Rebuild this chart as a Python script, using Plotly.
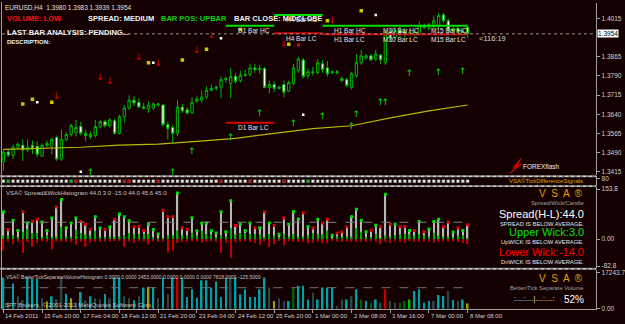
import plotly.graph_objects as go

W, H = 625, 324
BG = "#140000"
GRAY = "#a0a0a0"
TXT = "#d0d0d0"
FONT = "Liberation Sans"

# ---------------- data ----------------
bars = list(range(97))
open_ = [1.3454,1.3492,1.3480,1.3511,1.3519,1.3500,1.3519,1.3515,1.3477,1.3519,
         1.3515,1.3549,1.3465,1.3542,1.3561,1.3569,1.3592,1.3565,1.3561,1.3557,
         1.3592,1.3611,1.3595,1.3615,1.3565,1.3630,1.3664,1.3695,1.3687,1.3668,
         1.3661,1.3664,1.3676,1.3676,1.3599,1.3588,1.3565,1.3668,1.3657,1.3645,
         1.3691,1.3695,1.3707,1.3733,1.3741,1.3745,1.3775,1.3760,1.3787,1.3772,
         1.3791,1.3795,1.3821,1.3814,1.3818,1.3745,1.3756,1.3741,1.3756,1.3730,
         1.3760,1.3810,1.3852,1.3791,1.3806,1.3802,1.3837,1.3821,1.3802,1.3806,
         1.3779,1.3775,1.3745,1.3791,1.3841,1.3860,1.3868,1.3856,1.3871,1.3841,
         1.3963,1.3940,1.3967,1.3963,1.3952,1.3960,1.3956,1.3982,1.3975,1.3982,
         1.3982,1.4028,1.4005,1.3967,1.3975,1.3960,1.3980]
high = [1.3503,1.3503,1.3523,1.3530,1.3542,1.3542,1.3538,1.3534,1.3526,1.3538,
        1.3549,1.3557,1.3580,1.3569,1.3603,1.3618,1.3611,1.3580,1.3572,1.3618,
        1.3618,1.3618,1.3626,1.3622,1.3638,1.3676,1.3714,1.3710,1.3703,1.3684,
        1.3691,1.3687,1.3684,1.3680,1.3611,1.3599,1.3695,1.3680,1.3668,1.3707,
        1.3710,1.3733,1.3749,1.3756,1.3752,1.3787,1.3787,1.3821,1.3802,1.3810,
        1.3814,1.3837,1.3837,1.3833,1.3825,1.3772,1.3768,1.3752,1.3772,1.3772,
        1.3837,1.3864,1.3860,1.3818,1.3825,1.3856,1.3852,1.3848,1.3810,1.3814,
        1.3787,1.3783,1.3806,1.3875,1.3891,1.3875,1.3875,1.3891,1.3875,1.3971,
        1.3971,1.3979,1.3982,1.3979,1.3975,1.3971,1.4002,1.3994,1.3998,1.4025,
        1.4036,1.4036,1.4013,1.3982,1.3986,1.3975,1.3983]
low = [1.3419,1.3473,1.3465,1.3503,1.3458,1.3492,1.3484,1.3473,1.3473,1.3511,
       1.3484,1.3458,1.3458,1.3534,1.3553,1.3553,1.3557,1.3534,1.3542,1.3549,
       1.3584,1.3588,1.3588,1.3561,1.3561,1.3607,1.3657,1.3672,1.3664,1.3657,
       1.3645,1.3657,1.3668,1.3592,1.3542,1.3530,1.3553,1.3645,1.3638,1.3641,
       1.3684,1.3684,1.3699,1.3730,1.3733,1.3703,1.3764,1.3703,1.3760,1.3764,
       1.3787,1.3787,1.3802,1.3798,1.3741,1.3722,1.3726,1.3737,1.3707,1.3726,
       1.3752,1.3802,1.3779,1.3779,1.3791,1.3795,1.3802,1.3787,1.3798,1.3795,
       1.3764,1.3745,1.3737,1.3783,1.3833,1.3852,1.3848,1.3848,1.3837,1.3833,
       1.3925,1.3933,1.3944,1.3940,1.3948,1.3944,1.3948,1.3971,1.3967,1.3971,
       1.3975,1.3998,1.3960,1.3960,1.3952,1.3948,1.3939]
close = [1.3492,1.3480,1.3511,1.3523,1.3500,1.3511,1.3507,1.3484,1.3519,1.3526,
         1.3542,1.3465,1.3542,1.3561,1.3595,1.3588,1.3565,1.3557,1.3553,1.3592,
         1.3611,1.3595,1.3618,1.3565,1.3630,1.3664,1.3695,1.3684,1.3668,1.3664,
         1.3676,1.3680,1.3680,1.3599,1.3584,1.3565,1.3668,1.3653,1.3645,1.3687,
         1.3699,1.3707,1.3733,1.3741,1.3745,1.3775,1.3779,1.3787,1.3768,1.3791,
         1.3795,1.3821,1.3814,1.3818,1.3745,1.3756,1.3741,1.3745,1.3726,1.3764,
         1.3821,1.3856,1.3787,1.3806,1.3802,1.3841,1.3814,1.3798,1.3806,1.3802,
         1.3772,1.3752,1.3798,1.3841,1.3868,1.3868,1.3852,1.3875,1.3852,1.3960,
         1.3937,1.3967,1.3952,1.3952,1.3960,1.3952,1.3986,1.3979,1.3990,1.4005,
         1.4025,1.4005,1.3967,1.3975,1.3960,1.3963,1.3954]

# moving average (read every 8 bars)
ma_idx = [0, 8, 16, 24, 32, 40, 48, 56, 64, 72, 80, 88, 96]
ma_val = [1.3503,1.3507,1.3511,1.3519,1.3523,1.3534,1.3546,1.3565,1.3584,1.3595,1.3626,1.3653,1.3676]

# signal arrows / markers
dn_idx = [11, 20, 22, 28, 32, 40, 43, 58, 68]
dn_val = [1.3707,1.3783,1.3768,1.3860,1.3837,1.3887,1.3948,1.3917,1.4005]
up_idx = [18, 35, 39, 47, 53, 60, 66, 72, 73, 78, 79, 84, 90, 95]
up_val = [1.3410,1.3410,1.3492,1.3549,1.3641,1.3603,1.3630,1.3592,1.3638,1.3684,1.3684,1.3798,1.3802,1.3806]
ysq_idx = [4, 6, 10, 30, 37, 42, 49, 59, 67, 74]
ysq_val = [1.3680,1.3699,1.3687,1.3841,1.3852,1.3894,1.3971,1.3913,1.4005,1.4044]
wdot_idx = [7, 31, 45, 62, 77, 16]
wdot_val = [1.3687,1.3841,1.3937,1.3638,1.4028,1.3415]
rsq_idx = [61]
rsq_val = [1.3910]

# support / resistance levels
lvl_name = ["D1 Bar HC","D1 Bar LC","H4 Bar HC","H4 Bar LC","H1 Bar HC","H1 Bar LC",
            "M30 Bar HC","M30 Bar LC","M15 Bar HC","M15 Bar LC"]
lvl_start = [46, 46, 56, 56, 66, 66, 76, 76, 86, 86]
lvl_end = [56, 56, 66, 66, 76, 76, 86, 86, 96, 96]
lvl_price = [1.3986,1.3607,1.4028,1.3956,1.3986,1.3952,1.3986,1.3952,1.3986,1.3952]

# tick difference strip colours
strip_red = [15, 25, 26, 32, 45, 51, 58]
strip_green = [1, 14, 63]

# volume histogram
volume = [14850,3000,12000,6000,4000,14850,14200,14200,5000,3500,
          6000,4500,14850,7000,5000,3000,8000,4000,6000,5000,
          4500,7000,5000,14850,14850,6000,5000,4000,6000,10060,
          10500,10060,5000,14850,7000,14850,14850,14850,5590,9260,
          5270,13570,13570,10060,12930,5590,14850,14850,14850,6870,
          9260,5590,5590,9260,14850,10060,3670,5000,3670,3670,
          10060,10900,10900,4460,7660,4460,10060,10060,10060,1290,
          4460,4460,6070,9260,4460,3670,2870,4460,2870,9260,
          3670,2870,2870,3670,4460,8460,9260,2870,3670,3670,
          6550,6070,8460,4150,3670,4460,2453]
vol_kind = ["t","d","t","d","d","t","t","t","d","o",
            "t","d","d","t","o","d","t","d","t","d",
            "d","t","d","t","t","d","d","t","d","t",
            "o","t","d","t","d","t","r","t","t","t",
            "t","t","t","t","t","t","t","d","t","t",
            "t","t","t","t","t","d","o","d","d","t",
            "g","t","t","t","d","t","t","t","t","d",
            "d","t","d","t","g","t","g","t","d","r",
            "d","d","g","g","G","t","t","t","t","d",
            "t","t","d","t","d","t","o"]
vol_avg = 10000
spread_avg = 52

# x tick labels
tick_idx = [0, 8, 16, 24, 32, 40, 48, 56, 64, 72, 80, 88, 96]
tick_lbl = ["14 Feb 2011","15 Feb 20:00","17 Feb 04:00","18 Feb 12:00","21 Feb 20:00",
            "23 Feb 04:00","24 Feb 12:00","25 Feb 20:00","1 Mar 00:00","2 Mar 08:00",
            "3 Mar 16:00","7 Mar 00:00","8 Mar 08:00"]
price_ticks = [1.4015,1.3865,1.3790,1.3715,1.3640,1.3565,1.3490,1.3415]

# ---------------- derived indicator values ----------------
spread = [round((h - l) * 10000, 1) for h, l in zip(high, low)]
upwick = [round((h - max(o, c)) * 10000, 1) for o, h, c in zip(open_, high, close)]
dnwick = [-round((min(o, c) - l) * 10000, 1) for o, l, c in zip(open_, low, close)]
cap_col = ["#00e000" if c >= o else "#e00000" for o, c in zip(open_, close)]
strip_col = ["#00d000" if i in strip_green else "#e00000" if i in strip_red else "#f0f0f0" for i in bars]
kind_col = {"t": "#00a0a8", "d": "#2a4848", "o": "#a0a000", "r": "#c00000", "g": "#006000", "G": "#00c000"}
vol_col = [kind_col[k] for k in vol_kind]


def px(x):
    return x / W


def py(y):
    return 1 - y / H


fig = go.Figure()

# main chart
fig.add_trace(go.Scatter(x=ma_idx, y=ma_val, mode="lines", line=dict(color="#b8b800", width=1.2),
                         yaxis="y", hoverinfo="skip"))
fig.add_trace(go.Candlestick(x=bars, open=open_, high=high, low=low, close=close,
                             increasing=dict(line=dict(color="#00b400", width=1), fillcolor="#000000"),
                             decreasing=dict(line=dict(color="#00b400", width=1), fillcolor="#ffffff"),
                             whiskerwidth=0, yaxis="y"))
for n, s, e, p in zip(lvl_name, lvl_start, lvl_end, lvl_price):
    col = "#00e000" if n.endswith("HC") else "#d80000"
    fig.add_trace(go.Scatter(x=[s, e], y=[p, p], mode="lines", line=dict(color=col, width=2),
                             yaxis="y", hoverinfo="skip"))
    fig.add_annotation(x=s + 2, y=p, xref="x", yref="y", text=n, showarrow=False, xanchor="left",
                       yanchor="middle", yshift=-5, font=dict(family=FONT, size=6.5, color="#e0e0e0"))

fig.add_trace(go.Scatter(x=dn_idx, y=dn_val, mode="text", text=["↓"] * len(dn_idx),
                         textfont=dict(family="DejaVu Sans", size=9, color="#e00000"), yaxis="y"))
fig.add_trace(go.Scatter(x=up_idx, y=up_val, mode="text", text=["↑"] * len(up_idx),
                         textfont=dict(family="DejaVu Sans", size=9, color="#00e000"), yaxis="y"))
fig.add_trace(go.Scatter(x=ysq_idx, y=ysq_val, mode="markers",
                         marker=dict(symbol="square", size=3.5, color="#c8c800"), yaxis="y"))
fig.add_trace(go.Scatter(x=wdot_idx, y=wdot_val, mode="markers",
                         marker=dict(symbol="square", size=2.5, color="#ffffff"), yaxis="y"))
fig.add_trace(go.Scatter(x=rsq_idx, y=rsq_val, mode="markers",
                         marker=dict(symbol="square", size=3, color="#e00000"), yaxis="y"))

# strip
fig.add_trace(go.Scatter(x=bars, y=[0.5] * len(bars), mode="markers",
                         marker=dict(symbol="square", size=3, color=strip_col,
                                     line=dict(color="#606060", width=0.5)), yaxis="y2"))

# spread / wick histogram
fig.add_trace(go.Bar(x=bars, y=spread, width=0.28, marker=dict(color="#b8b8b8", line=dict(width=0)), yaxis="y3"))
fig.add_trace(go.Bar(x=bars, y=upwick, width=0.28, marker=dict(color="#00b000", line=dict(width=0)), yaxis="y3"))
fig.add_trace(go.Bar(x=bars, y=dnwick, width=0.28, marker=dict(color="#c00000", line=dict(width=0)), yaxis="y3"))
fig.add_trace(go.Scatter(x=bars, y=spread, mode="markers",
                         marker=dict(symbol="square", size=3, color=cap_col), yaxis="y3"))
fig.add_trace(go.Scatter(x=[0, 96], y=[spread_avg, spread_avg], mode="lines",
                         line=dict(color="#808080", width=1, dash="dash"), yaxis="y3"))

# volume histogram
fig.add_trace(go.Bar(x=bars, y=volume, width=0.35, marker=dict(color=vol_col, line=dict(width=0)), yaxis="y4"))
fig.add_trace(go.Scatter(x=[0, 96], y=[vol_avg, vol_avg], mode="lines",
                         line=dict(color="#707070", width=1, dash="dash"), yaxis="y4"))

axfont = dict(family=FONT, size=6.5, color=TXT)
common_y = dict(side="right", anchor="x", showgrid=False, zeroline=False, ticks="outside", ticklen=3,
                tickcolor=GRAY, showline=True, linecolor=GRAY, linewidth=1, tickfont=axfont, fixedrange=True)

fig.update_layout(
    width=W, height=H, margin=dict(l=0, r=0, t=0, b=0),
    paper_bgcolor=BG, plot_bgcolor=BG, showlegend=False, barmode="overlay",
    xaxis=dict(domain=[px(2), px(603)], range=[-0.3, 122.6], anchor="y4", showgrid=False, zeroline=False,
               tickvals=tick_idx, ticks="outside", ticklen=3, tickcolor=GRAY, showticklabels=False,
               showline=True, linecolor=GRAY, rangeslider=dict(visible=False)),
    yaxis=dict(domain=[py(176), py(1)], range=[1.34015, 1.40746], tickvals=price_ticks,
               tickformat=".4f", **common_y),
    yaxis2=dict(domain=[py(187), py(177)], range=[0, 1], tickvals=[0.75], ticktext=["80"], **common_y),
    yaxis3=dict(domain=[py(270), py(188)], range=[-88, 160], tickvals=[153.8, 0, -82.8],
                ticktext=["153.8", "0.00", "-82.8"], **common_y),
    yaxis4=dict(domain=[py(312), py(272)], range=[-186, 18500], tickvals=[17243.7, 0],
                ticktext=["17243.7", "0.00"], **common_y),
)

shapes = []
# panel separators
for y0, y1 in [(176, 178), (186, 188), (270, 272)]:
    shapes.append(dict(type="rect", xref="paper", yref="paper", x0=px(0), x1=px(603), y0=py(y1), y1=py(y0),
                       fillcolor="#8a8a8a", line=dict(width=0)))
    shapes.append(dict(type="line", xref="paper", yref="paper", x0=px(1), x1=px(603), y0=py((y0 + y1) / 2),
                       y1=py((y0 + y1) / 2), line=dict(color="#e8e8e8", width=1, dash="dot")))
# left border
shapes.append(dict(type="line", xref="paper", yref="paper", x0=px(1.5), x1=px(1.5), y0=py(312), y1=py(0),
                   line=dict(color=GRAY, width=1)))
# current price dotted line
shapes.append(dict(type="line", xref="paper", yref="y", x0=px(2), x1=px(603), y0=close[-1], y1=close[-1],
                   line=dict(color="#909090", width=1, dash="dot")))
# FOREXflash lightning
shapes.append(dict(type="path", xref="paper", yref="paper",
                   path=f"M {px(527)} {py(159)} L {px(519)} {py(168)} L {px(523)} {py(167)} L {px(516)} {py(174)} "
                        f"L {px(527)} {py(165)} L {px(523)} {py(166)} Z",
                   fillcolor="#e00000", line=dict(color="#e00000", width=1)))
fig.update_layout(shapes=shapes)


def ann(x, y, text, size=7, color=TXT, anchor="left", bold=False, family=FONT, bg=None):
    t = f"<b>{text}</b>" if bold else text
    d = dict(x=px(x), y=py(y), xref="paper", yref="paper", text=t, showarrow=False, xanchor=anchor,
             yanchor="middle", font=dict(family=family, size=size, color=color))
    if bg:
        d["bgcolor"] = bg
        d["borderpad"] = 0
    fig.add_annotation(**d)


# header texts
ann(3, 6, "EURUSD,H4  1.3980 1.3983 1.3939 1.3954", size=6.5, color="#e0e0e0")
ann(5, 17, "VOLUME: LOW", size=7.5, color="#ff1010", bold=True)
ann(87, 17, "SPREAD: MEDIUM", size=7.5, color="#f0f0f0", bold=True)
ann(161, 17, "BAR POS: UPBAR", size=7.5, color="#10d010", bold=True)
ann(235, 17, "BAR CLOSE: MIDCLOSE", size=7.5, color="#f0f0f0", bold=True)
ann(5, 31, "LAST BAR ANALYSIS: PENDING...", size=7.5, color="#f0f0f0", bold=True)
ann(5, 41, "DESCRIPTION:", size=6, color="#f0f0f0", bold=True)
fig.add_annotation(x=98, y=close[-1], xref="x", yref="y", text="&lt;116:19", showarrow=False, xanchor="left",
                   yshift=-5, font=dict(family=FONT, size=7.5, color="#d8d8d8"))
ann(604, 32.5, "1.3954", size=6.5, color="#000000", bg="#ffffff")
ann(527, 167, "FOREXflash", size=6.5, color="#f0f0f0")

# strip
ann(592, 182, "VSA©TickDifferenceSignals", size=6, color="#e0a000", anchor="right")

# spread panel texts
ann(4, 194, "VSA© Spread&amp;WickHistogram 44.0 3.0 -15.0 44.0 45.6 45.0", size=6, color="#c8c8c8")
ann(592, 194.5, "V  S  A  ®", size=10, color="#e8a000", anchor="right")
ann(593, 204, "Spread/Wick/Candle", size=5.8, color="#a0a0a0", anchor="right")
ann(593, 215, "Spread(H-L):44.0", size=11, color="#ffffff", anchor="right")
ann(593, 225, "SPREAD IS BELOW AVERAGE.", size=5.8, color="#e0e0e0", anchor="right")
ann(593, 234, "Upper Wick:3.0", size=11, color="#00e000", anchor="right")
ann(593, 244, "UpWICK IS BELOW AVERAGE.", size=5.8, color="#e0e0e0", anchor="right")
ann(593, 254, "Lower Wick:-14.0", size=11, color="#ff0000", anchor="right")
ann(593, 264, "DnWICK IS BELOW AVERAGE.", size=5.8, color="#e0e0e0", anchor="right")

# volume panel texts
ann(4, 279, "VSA© BetterTickSeparateVolumeHistogram 0.0000 0.0000 2453.0000 0.0000 0.0000 0.0000 7818.0000 -125.5000",
    size=5, color="#c8c8c8")
ann(592, 280.5, "V  S  A  ®", size=10, color="#e8a000", anchor="right")
ann(593, 290, "Better/Tick Separate Volume", size=5.8, color="#a0a0a0", anchor="right")
ann(563, 302, ":....:....|....:....:", size=7, color="#f0f0f0", anchor="right")
ann(593, 302, "52%", size=10, color="#ffffff", anchor="right")
ann(3, 308, "SPT Brokers, © 2001-2011 MetaQuotes Software Corp.", size=6, color="#c0c0c0")

# x tick labels
for i, lab in zip(tick_idx, tick_lbl):
    fig.add_annotation(x=i, y=py(314), xref="x", yref="paper", text=lab, showarrow=False, xanchor="left",
                       yanchor="top", font=dict(family=FONT, size=6, color=TXT))

fig.write_html("out.html")
